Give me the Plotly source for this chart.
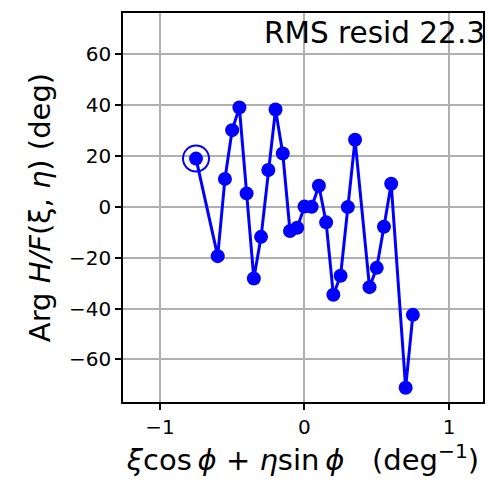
import plotly.graph_objects as go

x_vals = [-0.75, -0.60, -0.55, -0.50, -0.45, -0.40, -0.35, -0.30, -0.25, -0.20,
          -0.15, -0.10, -0.05, 0.00, 0.05, 0.10, 0.15, 0.20, 0.25, 0.30,
          0.35, 0.45, 0.50, 0.55, 0.60, 0.70, 0.75]
y_vals = [19.0, -19.4, 11.0, 30.2, 39.1, 5.3, -28.2, -11.8, 14.5, 38.3,
          21.0, -9.5, -8.2, 0.1, 0.0, 8.3, -6.1, -34.6, -27.1, -0.1,
          26.4, -31.6, -24.0, -7.8, 9.1, -71.2, -42.5]
highlight_x = [-0.75]
highlight_y = [19.0]
x_ticks = [-1, 0, 1]
y_ticks = [-60, -40, -20, 0, 20, 40, 60]
rms_text = "RMS resid 22.3"

FONT = "DejaVu Sans"
fig = go.Figure()
fig.add_trace(go.Scatter(
    x=x_vals, y=y_vals, mode="lines+markers",
    line=dict(color="#0000ff", width=3),
    marker=dict(color="#0000ff", size=14),
    showlegend=False, hoverinfo="skip"))
fig.add_trace(go.Scatter(
    x=highlight_x, y=highlight_y, mode="markers",
    marker=dict(symbol="circle-open", color="#0000ff", size=26,
                line=dict(color="#0000ff", width=2)),
    showlegend=False, hoverinfo="skip"))

fig.add_annotation(text=rms_text, xref="paper", yref="paper", x=1.0, y=1.0,
                   xanchor="right", yanchor="top", showarrow=False,
                   xshift=4, yshift=-1,
                   font=dict(family=FONT, size=29.5, color="black"))

axis_common = dict(showgrid=True, gridcolor="#b0b0b0", gridwidth=1.5,
                   showline=True, linecolor="black", linewidth=1.5, mirror=True,
                   ticks="outside", ticklen=6, tickwidth=1.5, tickcolor="black",
                   zeroline=False,
                   tickfont=dict(family=FONT, size=20, color="black"))

fig.update_xaxes(range=[-1.255, 1.235], tickvals=x_ticks,
                 title=dict(text="<i>ξ</i>cos<i>\u2009ϕ</i> + <i>η</i>sin<i>\u2009ϕ</i>\u00a0\u00a0\u00a0(deg<sup>−1</sup>)",
                            font=dict(family=FONT, size=29, color="black"), standoff=4),
                 **axis_common)
fig.update_yaxes(range=[-76.8, 76.3], tickvals=y_ticks,
                 title=dict(text="Arg <i>H/F</i>(ξ, <i>η</i>) (deg)",
                            font=dict(family=FONT, size=29, color="black"), standoff=10),
                 **axis_common)

fig.update_layout(width=491, height=481,
                  margin=dict(l=123, r=6, t=13, b=79),
                  plot_bgcolor="white", paper_bgcolor="white",
                  font=dict(family=FONT))
fig.write_html("out.html")
